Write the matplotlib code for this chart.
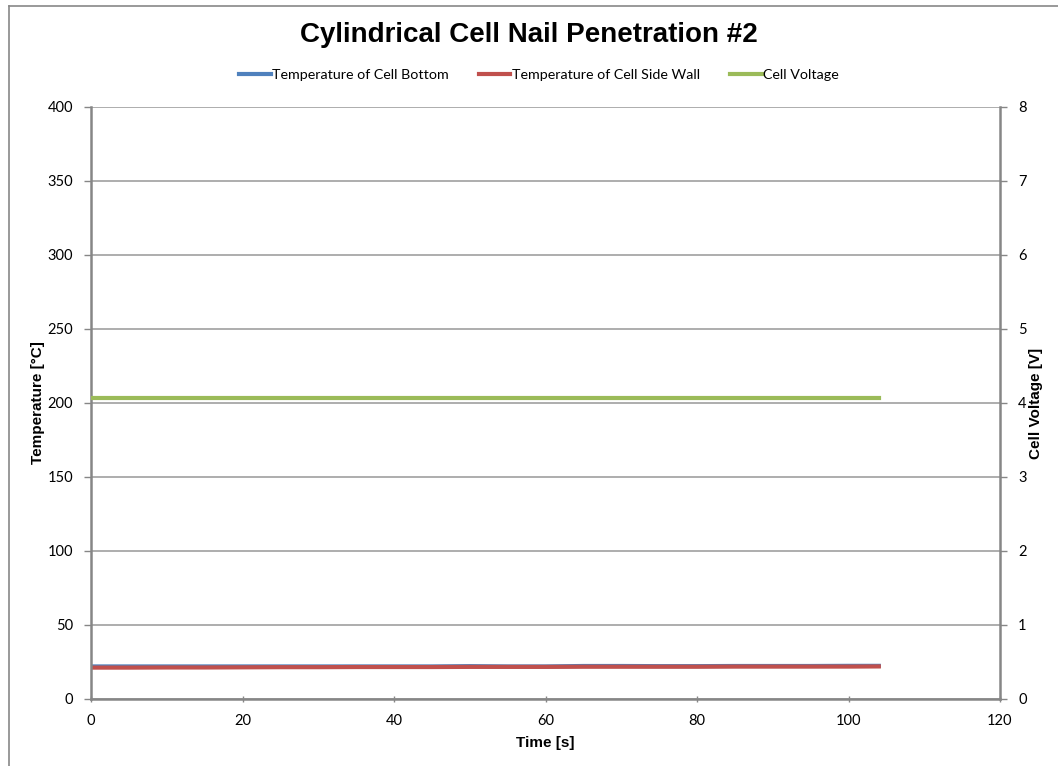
import matplotlib
matplotlib.use("Agg")
import matplotlib.pyplot as plt
from matplotlib.lines import Line2D

time_s = [0, 5, 10, 15, 20, 25, 30, 35, 40, 45, 50, 55, 60, 65, 70, 75, 80, 85, 90, 95, 100, 104]
temp_bottom = [22.0, 22.0, 22.0, 22.0, 22.0, 22.0, 22.0, 22.0, 22.0, 22.0, 22.2, 22.0, 22.0, 22.3, 22.3, 22.2, 22.2, 22.3, 22.3, 22.3, 22.4, 22.4]
temp_side = [21.2, 21.2, 21.3, 21.3, 21.4, 21.5, 21.5, 21.6, 21.6, 21.6, 21.7, 21.7, 21.7, 21.8, 21.8, 21.8, 21.8, 21.9, 21.9, 21.9, 21.9, 22.0]
voltage = [4.07, 4.07, 4.07, 4.07, 4.07, 4.07, 4.07, 4.07, 4.07, 4.07, 4.07, 4.07, 4.07, 4.07, 4.07, 4.07, 4.07, 4.07, 4.07, 4.07, 4.07, 4.07]

title = "Cylindrical Cell Nail Penetration #2"
labels = ["Temperature of Cell Bottom", "Temperature of Cell Side Wall", "Cell Voltage"]
colors = ["#4F81BD", "#C0504D", "#9BBB59"]

W, H = 1058, 766
plt.rcParams['font.family'] = ['Lato', 'DejaVu Sans']
fig = plt.figure(figsize=(W / 100, H / 100), dpi=100)
ax = fig.add_axes([91 / W, (H - 699) / H, 909 / W, 592 / H])
ax2 = ax.twinx()

l1, = ax.plot(time_s, temp_bottom, color=colors[0], lw=3, label=labels[0])
l2, = ax.plot(time_s, temp_side, color=colors[1], lw=3, label=labels[1])
l3, = ax2.plot(time_s, voltage, color=colors[2], lw=3, label=labels[2])

ax.set_xlim(0, 120)
ax.set_ylim(0, 400)
ax2.set_ylim(0, 8)
ax.set_xticks(range(0, 121, 20))
ax.set_yticks(range(0, 401, 50))
ax2.set_yticks(range(0, 9, 1))
ax.grid(axis='y', color='#A0A0A0', lw=1.2)
ax.set_axisbelow(True)

spine_c = '#868686'
for a in (ax, ax2):
    for s in a.spines.values():
        s.set_visible(False)
    a.tick_params(colors=spine_c, labelcolor='black', labelsize=10.5, width=1, length=5)
ax.spines['left'].set_visible(True)
ax.spines['bottom'].set_visible(True)
ax2.spines['right'].set_visible(True)
for s in (ax.spines['left'], ax.spines['bottom'], ax2.spines['right']):
    s.set_color(spine_c)
    s.set_linewidth(1.8)
ax.tick_params(axis='y', direction='out', pad=8)
ax.tick_params(axis='x', direction='inout', pad=8)
ax2.tick_params(axis='y', direction='out', pad=8)

bold_fam = ['Liberation Sans', 'DejaVu Sans']
ax.set_xlabel("Time [s]", fontsize=11, fontweight='bold', family=bold_fam, labelpad=6)
ax.set_ylabel("Temperature [°C]", fontsize=11, fontweight='bold', family=bold_fam, labelpad=2)
ax2.set_ylabel("Cell Voltage [V]", fontsize=11, fontweight='bold', family=bold_fam, labelpad=2)

fig.text(0.5, 1 - 35 / H, title, ha='center', va='center', fontsize=20, fontweight='bold',
         family=['Liberation Sans Narrow', 'Liberation Sans', 'DejaVu Sans'])
fig.legend([l1, l2, l3], labels, loc='center', bbox_to_anchor=(0.5 + 10 / W, 1 - 75 / H), ncol=3,
           frameon=False, fontsize=10.3, handlelength=2.2, handletextpad=0.1, columnspacing=2.1)

fig.add_artist(Line2D([9 / W, 1.0], [1 - 6 / H, 1 - 6 / H], transform=fig.transFigure,
                      color='#888888', lw=1.2))
fig.add_artist(Line2D([9 / W, 9 / W], [0.0, 1 - 6 / H], transform=fig.transFigure,
                      color='#888888', lw=1.2))

fig.savefig("out.png", dpi=100)
